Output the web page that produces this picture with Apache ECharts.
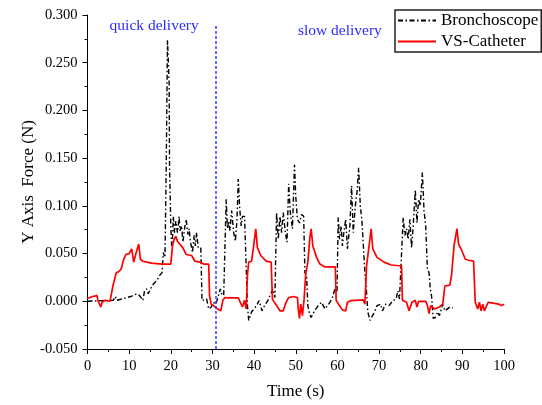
<!DOCTYPE html>
<html>
<head>
<meta charset="utf-8">
<script src="https://cdn.jsdelivr.net/npm/echarts@6/dist/echarts.min.js"></script>
<style>
html,body{margin:0;padding:0;background:#fff;}
#main{width:542px;height:405px;}
</style>
</head>
<body>
<div id="main"></div>
<script>
// ---- data (time s, force N) ----
var bronchoscope = [[0,0],[3.7,0.0007],[6.2,0.001],[6.7,0.005],[7,0.001],[8.7,0.003],[10.4,0.005],[11.9,0.008],[12.5,0.006],[12.9,0.0035],[13.3,0.001],[13.7,0.011],[14.2,0.013],[14.6,0.008],[15,0.012],[15.8,0.018],[16.7,0.022],[17.3,0.027],[17.9,0.030],[18.2,0.051],[18.6,0.046],[18.9,0.14],[19.2,0.274],[19.3,0.263],[19.6,0.229],[19.7,0.142],[20,0.079],[20.2,0.058],[20.4,0.065],[20.6,0.089],[20.9,0.072],[21.2,0.084],[21.6,0.072],[22,0.089],[22.2,0.074],[22.6,0.079],[22.9,0.062],[23.4,0.079],[23.7,0.086],[24.1,0.070],[24.4,0.076],[24.7,0.063],[25.2,0.051],[25.6,0.069],[25.9,0.058],[26.2,0.072],[26.6,0.056],[26.9,0.058],[27.2,0.056],[27.5,0.0007],[27.9,-0.001],[28.6,0.0024],[29.1,-0.008],[29.7,-0.006],[30.2,-0.001],[30.8,-0.003],[31.2,0.0024],[31.9,0.013],[32.2,0.008],[32.7,0.006],[33.3,0.107],[33.6,0.076],[33.9,0.084],[34.2,0.074],[34.6,0.095],[34.8,0.093],[35.1,0.072],[35.5,0.063],[35.9,0.086],[36.2,0.128],[36.5,0.100],[36.9,0.079],[37.2,0.089],[37.7,0.089],[38.1,0.088],[38.4,-0.0045],[38.7,-0.020],[39.4,-0.011],[40,-0.008],[40.6,-0.0045],[41.2,0.0007],[41.9,-0.010],[42.5,-0.0045],[43.3,0.0007],[44.1,0.009],[44.5,0.013],[45,0.004],[45.4,0.093],[45.8,0.065],[46.2,0.089],[46.6,0.072],[47,0.093],[47.5,0.072],[47.9,0.062],[48.3,0.123],[48.7,0.093],[49.2,0.076],[49.7,0.143],[50,0.110],[50.4,0.086],[50.9,0.082],[51.4,0.091],[51.9,0.089],[52.2,0.030],[52.6,0.027],[52.9,-0.0045],[53.3,-0.013],[53.7,-0.017],[54.5,-0.010],[55.4,-0.0045],[56.2,-0.001],[57,-0.008],[57.9,-0.003],[58.7,0.0024],[59.4,0.013],[59.9,0.009],[60.2,0.088],[60.5,0.065],[60.9,0.079],[61.2,0.058],[61.6,0.074],[62,0.086],[62.4,0.055],[63,0.079],[63.4,0.121],[63.8,0.072],[64.3,0.100],[64.7,0.114],[65.1,0.140],[65.5,0.100],[65.9,0.084],[66.3,0.082],[66.6,0.030],[66.9,0.016],[67.3,-0.011],[67.8,-0.020],[68.7,-0.013],[69.5,-0.0045],[70.4,-0.003],[70.8,-0.010],[71.6,-0.003],[72.4,-0.0045],[73.3,0.0007],[74.1,0.0024],[74.5,0.011],[74.9,0.0024],[75.3,0.0007],[75.8,0.088],[76.2,0.069],[76.6,0.076],[77,0.065],[77.4,0.086],[77.8,0.056],[78.2,0.079],[78.7,0.117],[79.1,0.082],[79.5,0.107],[79.9,0.100],[80.4,0.135],[80.8,0.095],[81.2,0.079],[81.6,0.034],[82,0.030],[82.3,0.013],[82.6,0.006],[83,-0.018],[83.5,-0.017],[84.1,-0.011],[84.5,-0.015],[85.3,-0.003],[85.8,-0.010],[86.2,-0.011],[87,-0.006],[87.7,-0.007]];

var vsCatheter = [[0,0.003],[1.2,0.005],[2.3,0.006],[2.5,0.001],[3.2,-0.006],[3.5,-0.001],[4.2,0.001],[5.4,0.0],[5.8,0.002],[6.1,0.016],[6.9,0.030],[7.5,0.031],[8.1,0.034],[8.7,0.044],[9.2,0.049],[10,0.050],[10.6,0.055],[11.1,0.041],[11.5,0.048],[11.8,0.049],[12.3,0.060],[12.7,0.044],[13.3,0.042],[14.2,0.041],[15.4,0.040],[17.9,0.039],[20,0.039],[20.1,0.037],[20.4,0.058],[20.8,0.065],[21.2,0.068],[21.6,0.063],[22,0.062],[22.9,0.056],[23.7,0.049],[25,0.048],[25.8,0.042],[27,0.041],[27.9,0.039],[29.1,0.039],[29.3,0.006],[29.7,-0.003],[30.4,-0.005],[31.2,-0.008],[32,-0.010],[32.5,0.001],[33,0.004],[33.7,0.0035],[36.2,0.0035],[36.6,0.0025],[37.2,-0.006],[37.7,0.001],[38.1,-0.008],[38.4,0.027],[38.7,0.041],[39.4,0.042],[39.8,0.055],[40.4,0.076],[40.8,0.056],[41.6,0.048],[42.9,0.042],[44.1,0.041],[44.4,0.002],[45.4,-0.0045],[46.2,-0.010],[47,-0.010],[47.5,-0.003],[48.3,0.004],[49.5,0.005],[50.4,0.004],[50.6,-0.008],[50.9,-0.018],[51.2,-0.003],[51.6,-0.015],[52,0.002],[52.4,0.029],[52.9,0.041],[53.4,0.067],[53.7,0.076],[54.1,0.058],[55,0.046],[55.8,0.039],[57,0.036],[59.5,0.036],[59.7,0.001],[60.4,-0.004],[61.2,-0.009],[62,-0.010],[62.4,-0.001],[63.3,0.0007],[66.2,0.0014],[66.6,-0.003],[67,0.037],[67.4,0.051],[67.8,0.065],[68.1,0.076],[68.5,0.055],[69.5,0.046],[71.2,0.041],[72.9,0.038],[75.4,0.037],[75.6,0.001],[76.6,-0.001],[77.2,-0.010],[77.9,-0.001],[78.7,0.001],[79.1,-0.006],[79.5,0.0],[81.2,0.0],[81.6,-0.004],[82,-0.013],[82.4,-0.0045],[83.3,-0.008],[84.5,-0.006],[85.3,-0.003],[85.8,0.016],[86.2,0.018],[87,0.017],[87.4,0.027],[88,0.058],[88.7,0.076],[89.1,0.060],[89.9,0.053],[90.7,0.044],[91.5,0.043],[92.7,0.042],[93.1,-0.001],[93.7,-0.008],[94.1,-0.001],[94.5,-0.010],[94.9,-0.003],[95.3,-0.010],[96.2,-0.001],[97.4,-0.002],[98.7,-0.003],[99.5,-0.0045],[100,-0.003]];

var dividerTime = 30.8;
var dividerRange = [-0.05, 0.29];
var annotations = [
  {text: 'quick delivery', t: 16.0, v: 0.2885},
  {text: 'slow delivery', t: 60.6, v: 0.2833}
];
var xTicks = {min: 0, max: 100, interval: 10};
var yTicks = {min: -0.05, max: 0.3, interval: 0.05};

var FONT = 'Liberation Serif, Times New Roman, serif';
var chart = echarts.init(document.getElementById('main'), null, {renderer: 'canvas'});

var option = {
  animation: false,
  backgroundColor: '#fff',
  grid: {left: 87.5, right: 38, top: 15, bottom: 55, containLabel: false},
  legend: {
    orient: 'vertical',
    left: 395, top: 10,
    padding: [2, 3, 2, 2],
    itemGap: 4,
    itemWidth: 38,
    itemHeight: 14,
    borderColor: '#222',
    borderWidth: 1.5,
    borderRadius: 0,
    itemStyle: {opacity: 0},
    lineStyle: {opacity: 1},
    textStyle: {fontFamily: FONT, fontSize: 17, color: '#000'},
    data: ['Bronchoscope', 'VS-Catheter']
  },
  xAxis: {
    type: 'value',
    min: xTicks.min, max: xTicks.max, interval: xTicks.interval,
    name: 'Time (s)',
    nameLocation: 'middle',
    nameGap: 34,
    nameMoveOverlap: false,
    nameTextStyle: {fontFamily: FONT, fontSize: 17, color: '#000'},
    axisLine: {show: true, onZero: false, lineStyle: {color: '#000', width: 1}},
    axisTick: {show: true, inside: false, length: 5, lineStyle: {color: '#000'}},
    minorTick: {show: true, splitNumber: 2, length: 3, lineStyle: {color: '#000'}},
    splitLine: {show: false},
    axisLabel: {fontFamily: FONT, fontSize: 14.5, color: '#000', margin: 10}
  },
  yAxis: {
    type: 'value',
    min: yTicks.min, max: yTicks.max, interval: yTicks.interval,
    name: 'Y Axis  Force (N)',
    nameLocation: 'middle',
    nameGap: 50,
    nameMoveOverlap: false,
    nameTextStyle: {fontFamily: FONT, fontSize: 17, color: '#000'},
    axisLine: {show: true, onZero: false, lineStyle: {color: '#000', width: 1}},
    axisTick: {show: true, inside: false, length: 5, lineStyle: {color: '#000'}},
    minorTick: {show: true, splitNumber: 2, length: 3, lineStyle: {color: '#000'}},
    splitLine: {show: false},
    axisLabel: {fontFamily: FONT, fontSize: 14.5, color: '#000', margin: 10,
      formatter: function (v) { return (Math.round(v * 1000) / 1000).toFixed(3); }}
  },
  series: [
    {
      name: 'Bronchoscope',
      type: 'line',
      data: bronchoscope,
      symbol: 'none',
      lineStyle: {color: '#000', width: 1.4, type: [5, 2.5, 1.5, 2.5]},
      itemStyle: {color: '#000'}
    },
    {
      name: 'VS-Catheter',
      type: 'line',
      data: vsCatheter,
      symbol: 'none',
      lineStyle: {color: '#ff0000', width: 1.7},
      itemStyle: {color: '#ff0000'},
      markLine: {
        silent: true,
        symbol: ['none', 'none'],
        label: {show: false},
        lineStyle: {color: '#3a3aff', width: 1.5, type: [3, 2]},
        data: [[{coord: [dividerTime, dividerRange[0]]}, {coord: [dividerTime, dividerRange[1]]}]]
      }
    }
  ]
};
chart.setOption(option);

var g = annotations.map(function (a) {
  var p = chart.convertToPixel({gridIndex: 0}, [a.t, a.v]);
  return {
    type: 'text',
    x: p[0], y: p[1],
    style: {text: a.text, fill: '#2b2bff', font: '15.5px ' + FONT, align: 'center', verticalAlign: 'middle'}
  };
});
chart.setOption({graphic: g});
</script>
</body>
</html>
